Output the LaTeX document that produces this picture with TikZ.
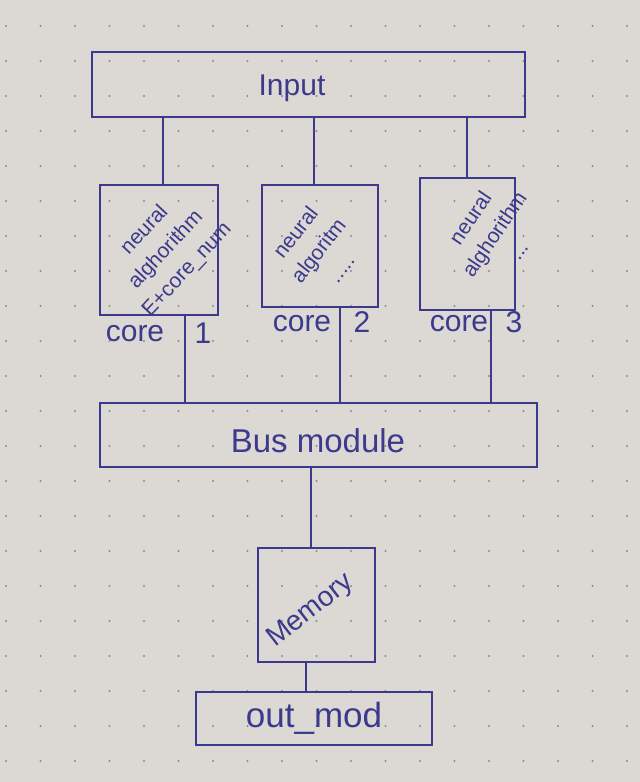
\documentclass[tikz,border=0pt]{standalone}
\usepackage{fontspec}
\setmainfont{Liberation Sans}
\definecolor{paper}{HTML}{DCD9D4}
\definecolor{ink}{HTML}{3B3A8C}
\definecolor{dotc}{HTML}{8E8C8A}
\begin{document}
\begin{tikzpicture}[x=1pt,y=-1pt,
  box/.style={draw=ink, line width=2.8pt, inner sep=0pt, rectangle},
  wire/.style={draw=ink, line width=2.8pt},
  lbl/.style={text=ink, inner sep=0pt, font=\fontsize{30}{32}\selectfont},
  coretext/.style={text=ink, inner sep=0pt, align=center, font=\fontsize{21}{29}\selectfont}]
\fill[paper] (0,0) rectangle (640,782);
\useasboundingbox (0,0) rectangle (640,782);
\foreach \i in {0,...,18} \foreach \j in {0,...,22}
  \fill[dotc] (\i*34.5+6, \j*35+26) circle (1.1pt);
% boxes
\node[box, minimum width=433pt, minimum height=65pt] (input) at (308.5,84.5) {};
\node[box, minimum width=118pt, minimum height=130pt] (core1) at (159,250) {};
\node[box, minimum width=116pt, minimum height=122pt] (core2) at (320,246) {};
\node[box, minimum width=95pt, minimum height=132pt] (core3) at (467.5,244) {};
\node[box, minimum width=437pt, minimum height=64pt] (bus) at (318.5,435) {};
\node[box, minimum width=117pt, minimum height=114pt] (memory) at (316.5,605) {};
\node[box, minimum width=236pt, minimum height=53pt] (outmod) at (314,718.5) {};
% texts
\node[lbl] (inputlbl) at (292,88) {Input};
\node[lbl, font=\fontsize{33}{35}\selectfont] (buslbl) at (318,441) {Bus module};
\node[lbl, font=\fontsize{28}{30}\selectfont, rotate=38] (memlbl) at (311,611) {Memory};
\node[lbl, font=\fontsize{35}{37}\selectfont] (outlbl) at (314,718) {out\_mod};
\node[coretext, rotate=47] (c1txt) at (166,250) {neural\\alghorithm\\E+core\_num};
\node[coretext, rotate=52] (c2txt) at (318,250) {neural\\algoritm\\.....};
\node[coretext, rotate=56] (c3txt) at (494,234) {neural\\alghorithm\\...};
\node[lbl] (c1a) at (135,334) {core};
\node[lbl] (c1b) at (203,333) {1};
\node[lbl] (c2a) at (302,324) {core};
\node[lbl] (c2b) at (362,322) {2};
\node[lbl] (c3a) at (459,324) {core};
\node[lbl] (c3b) at (514,322) {3};
% connectors
\coordinate (a1) at (163,0);
\coordinate (a2) at (314,0);
\coordinate (a3) at (467,0);
\coordinate (b1) at (185,0);
\coordinate (b2) at (340,0);
\coordinate (b3) at (491,0);
\coordinate (m1) at (311,0);
\coordinate (m2) at (306,0);
\draw[wire] (input.south -| a1) -- (core1.north -| a1);
\draw[wire] (input.south -| a2) -- (core2.north -| a2);
\draw[wire] (input.south -| a3) -- (core3.north -| a3);
\draw[wire] (core1.south -| b1) -- (bus.north -| b1);
\draw[wire] (core2.south -| b2) -- (bus.north -| b2);
\draw[wire] (core3.south -| b3) -- (bus.north -| b3);
\draw[wire] (bus.south -| m1) -- (memory.north -| m1);
\draw[wire] (memory.south -| m2) -- (outmod.north -| m2);
\end{tikzpicture}
\end{document}
